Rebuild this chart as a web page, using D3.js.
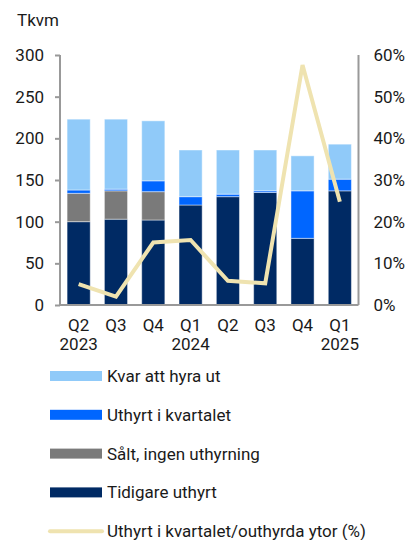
<!DOCTYPE html>
<meta charset="utf-8">
<script src="https://cdn.jsdelivr.net/npm/d3@7"></script>
<style>
body { margin: 0; background: #fff; }
text { font-family: Roboto, sans-serif; fill: #1a1a1a; }
</style>
<body>
<script>

// data
var quarters = ["Q2", "Q3", "Q4", "Q1", "Q2", "Q3", "Q4", "Q1"];
var years = ["2023", "", "", "2024", "", "", "", "2025"];
var tidigare = [100, 103, 102, 120, 130, 135, 80, 137];
var salt = [34, 34, 34, 0, 0, 0, 0, 0];
var uthyrt = [4, 2, 13, 10, 3, 2, 57, 14];
var kvar = [85, 84, 72, 56, 53, 49, 42, 42];
var andel = [5, 2, 15, 15.6, 5.8, 5.2, 57.6, 24.8];

var leftTicks = [0, 50, 100, 150, 200, 250, 300];
var rightTicks = [0, 10, 20, 30, 40, 50, 60];

var series = [
  {name: "Tidigare uthyrt", values: tidigare, color: "#002a64"},
  {name: "Sålt, ingen uthyrning", values: salt, color: "#7a7a7a"},
  {name: "Uthyrt i kvartalet", values: uthyrt, color: "#0066ff"},
  {name: "Kvar att hyra ut", values: kvar, color: "#90caf9"}
];
var lineName = "Uthyrt i kvartalet/outhyrda ytor (%)";
var lineColor = "#efe3b0";

var width = 417, height = 540;
var plotLeft = 60, plotRight = 358.5, plotTop = 55, plotBottom = 305;
var fs = "17px";

var svg = d3.select("body").append("svg")
    .attr("width", width)
    .attr("height", height);

var idx = d3.range(quarters.length);

var x = d3.scaleBand()
    .domain(idx)
    .range([plotLeft, plotRight])
    .paddingInner(0.38)
    .paddingOuter(0.19);

var y = d3.scaleLinear().domain([0, 300]).range([plotBottom, plotTop]);
var y2 = d3.scaleLinear().domain([0, 60]).range([plotBottom, plotTop]);

// stacked bars
var stack = d3.stack()
    .keys(d3.range(series.length))
    .value(function(i, k) { return series[k].values[i]; });
var layers = stack(idx);

svg.append("g").selectAll("g")
  .data(layers)
  .enter().append("g")
    .attr("fill", function(d) { return series[d.key].color; })
  .selectAll("rect")
  .data(function(d) { return d.filter(function(p) { return p[1] - p[0] > 0; }); })
  .enter().append("rect")
    .attr("x", function(d) { return x(d.data); })
    .attr("width", x.bandwidth())
    .attr("y", function(d) { return y(d[1]); })
    .attr("height", function(d) { return y(d[0]) - y(d[1]); })
    .attr("stroke", "rgba(255,255,255,0.45)")
    .attr("stroke-width", 1);

// line on right axis
var line = d3.line()
    .x(function(d, i) { return x(i) + x.bandwidth() / 2; })
    .y(function(d) { return y2(d); });

svg.append("path")
    .datum(andel)
    .attr("d", line)
    .attr("fill", "none")
    .attr("stroke", lineColor)
    .attr("stroke-width", 4);

// left axis
var yAxis = svg.append("g")
    .attr("transform", "translate(" + plotLeft + ",0)")
    .call(d3.axisLeft(y).tickValues(leftTicks).tickSize(5).tickPadding(11));
yAxis.select(".domain").attr("stroke", "#999").attr("stroke-width", 2)
    .attr("d", "M0," + plotTop + "V" + plotBottom);
yAxis.selectAll(".tick line").attr("stroke", "#999").attr("stroke-width", 2);
yAxis.selectAll("text").style("font-size", fs).attr("fill", "#1a1a1a")
    .style("font-family", "Roboto, sans-serif");

// right axis
var y2Axis = svg.append("g")
    .attr("transform", "translate(" + plotRight + ",0)")
    .call(d3.axisRight(y2).tickValues(rightTicks).tickSize(0).tickPadding(15)
      .tickFormat(function(d) { return d + "%"; }));
y2Axis.select(".domain").attr("stroke", "#999").attr("stroke-width", 2)
    .attr("d", "M0," + plotTop + "V" + plotBottom);
y2Axis.selectAll("text").style("font-size", fs).attr("fill", "#1a1a1a")
    .style("font-family", "Roboto, sans-serif");

// baseline
svg.append("line")
    .attr("x1", plotLeft).attr("x2", plotRight)
    .attr("y1", plotBottom).attr("y2", plotBottom)
    .attr("stroke", "#999").attr("stroke-width", 2);

// x labels
var xl = svg.append("g").selectAll("text")
  .data(idx)
  .enter().append("text")
    .attr("x", function(i) { return x(i) + x.bandwidth() / 2; })
    .attr("text-anchor", "middle")
    .style("font-size", fs);
xl.append("tspan").attr("x", function(i) { return x(i) + x.bandwidth() / 2; })
    .attr("y", 331).text(function(i) { return quarters[i]; });
xl.append("tspan").attr("x", function(i) { return x(i) + x.bandwidth() / 2; })
    .attr("y", 350).text(function(i) { return years[i]; });

// unit label
svg.append("text")
    .attr("x", 17).attr("y", 26)
    .style("font-size", fs)
    .text("Tkvm");

// legend
var legendItems = series.slice().reverse().map(function(s) {
  return {name: s.name, color: s.color, type: "bar"};
});
legendItems.push({name: lineName, color: lineColor, type: "line"});

var legend = svg.append("g").selectAll("g")
  .data(legendItems)
  .enter().append("g")
    .attr("transform", function(d, i) { return "translate(50," + (376 + i * 38.8) + ")"; });

legend.filter(function(d) { return d.type == "bar"; })
  .append("rect")
    .attr("x", 0).attr("y", -5)
    .attr("width", 52).attr("height", 10)
    .attr("fill", function(d) { return d.color; });

legend.filter(function(d) { return d.type == "line"; })
  .append("line")
    .attr("x1", 0).attr("x2", 52)
    .attr("stroke", function(d) { return d.color; })
    .attr("stroke-width", 4)
    .attr("stroke-linecap", "round");

legend.append("text")
    .attr("x", 57).attr("y", 6)
    .style("font-size", fs)
    .text(function(d) { return d.name; });

</script>
</body>
</html>
